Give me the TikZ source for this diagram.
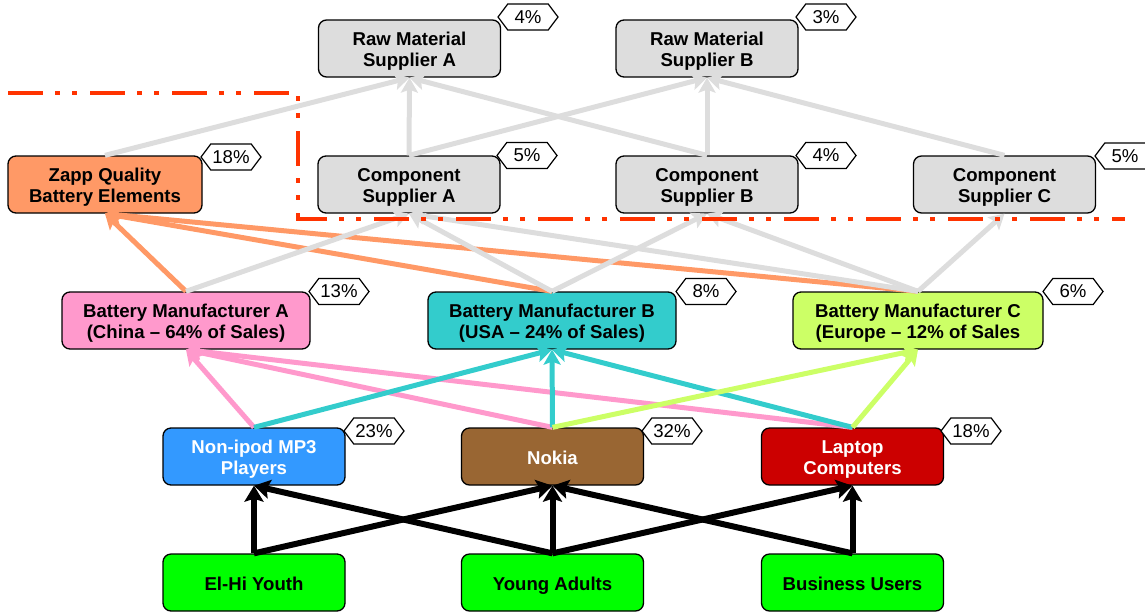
\documentclass[tikz,border=0pt]{standalone}
\usepackage{fontspec}
\setmainfont{Liberation Sans}
\usetikzlibrary{arrows.meta,shapes.symbols}
\definecolor{grayb}{HTML}{DDDDDD}
\definecolor{zappc}{HTML}{FF9966}
\definecolor{bmac}{HTML}{FF99CC}
\definecolor{bmbc}{HTML}{33CCCC}
\definecolor{bmcc}{HTML}{CCFF66}
\definecolor{mpc}{HTML}{3399FF}
\definecolor{nokc}{HTML}{996633}
\definecolor{lapc}{HTML}{CC0000}
\definecolor{grnc}{HTML}{00FF00}
\definecolor{ddc}{HTML}{FF3300}
\newcommand\bxtop{\rule{0pt}{19.2pt}}
\newcommand\bxbot{\rule[-4pt]{0pt}{4pt}}
\begin{document}
\begin{tikzpicture}[x=1pt,y=-1pt,
  box/.style={draw=black,line width=1.3pt,rounded corners=8pt,minimum width=182pt,minimum height=57pt,align=center,inner sep=0pt,font=\bfseries\fontsize{18.6}{21}\selectfont},
  pct/.style={draw=black,line width=1.2pt,fill=white,signal,signal to=east and west,signal pointer angle=106,minimum width=60pt,minimum height=26pt,inner sep=1pt,font=\fontsize{18.6}{21}\selectfont},
  conn/.style={line width=5pt,-{Stealth[length=15pt,width=17pt,inset=3pt]}},
  blk/.style={conn,draw=black,line width=6pt,-{Stealth[length=16pt,width=19pt,inset=3pt]}},
  gry/.style={conn,draw=grayb},
  org/.style={conn,draw=zappc},
  pnk/.style={conn,draw=bmac},
  cyn/.style={conn,draw=bmbc},
  lim/.style={conn,draw=bmcc},
  ddl/.style={draw=ddc,line width=4pt,dash pattern=on 35pt off 12pt on 5pt off 12pt on 5pt off 13pt}]
\useasboundingbox (0,0) rectangle (1145,611);
% boxes
\node[box,fill=grayb] (rma) at (409.5,48.5) {\bxtop Raw Material\\Supplier A\bxbot};
\node[box,fill=grayb] (rmb) at (707,48.5) {\bxtop Raw Material\\Supplier B\bxbot};
\node[box,fill=zappc,minimum width=194pt] (zapp) at (105,184.5) {\bxtop Zapp Quality\\Battery Elements\bxbot};
\node[box,fill=grayb] (csa) at (409,184.5) {\bxtop Component\\Supplier A\bxbot};
\node[box,fill=grayb] (csb) at (707,184.5) {\bxtop Component\\Supplier B\bxbot};
\node[box,fill=grayb] (csc) at (1004.5,184.5) {\bxtop Component\\Supplier C\bxbot};
\node[box,fill=bmac,minimum width=248pt] (bma) at (186,320.5) {\bxtop Battery Manufacturer A\\(China – 64\% of Sales)\bxbot};
\node[box,fill=bmbc,minimum width=248pt] (bmb) at (552,320.5) {\bxtop Battery Manufacturer B\\(USA – 24\% of Sales)\bxbot};
\node[box,fill=bmcc,minimum width=250pt] (bmc) at (918,320.5) {\bxtop Battery Manufacturer C\\(Europe – 12\% of Sales\bxbot};
\node[box,fill=mpc,text=white] (mp3) at (254,456.5) {\bxtop Non-ipod MP3\\Players\bxbot};
\node[box,fill=nokc,text=white] (nokia) at (552.5,456.5) {\bxtop Nokia\bxbot};
\node[box,fill=lapc,text=white] (laptop) at (852.5,456.5) {\bxtop Laptop\\Computers\bxbot};
\node[box,fill=grnc] (elhi) at (254,582.5) {\bxtop El-Hi Youth\bxbot};
\node[box,fill=grnc] (young) at (552.5,582.5) {\bxtop Young Adults\bxbot};
\node[box,fill=grnc] (biz) at (852.5,582.5) {\bxtop Business Users\bxbot};
% percentages
\node[pct] (p1) at (528,17) {4\%};
\node[pct] (p2) at (826,17) {3\%};
\node[pct] (p3) at (231,157) {18\%};
\node[pct] (p4) at (527,155.5) {5\%};
\node[pct] (p5) at (826,155.5) {4\%};
\node[pct] (p6) at (1125,156) {5\%};
\node[pct] (p7) at (339,291.5) {13\%};
\node[pct] (p8) at (706,291.5) {8\%};
\node[pct] (p9) at (1073,291.5) {6\%};
\node[pct] (p10) at (374,431) {23\%};
\node[pct] (p11) at (672,431) {32\%};
\node[pct] (p12) at (971,431) {18\%};
% top level
\draw[gry] (zapp.north) -- (rma.south);
\draw[gry] (csa.north) -- (rma.south);
\draw[gry] (csb.north) -- (rma.south);
\draw[gry] (csa.north) -- (rmb.south);
\draw[gry] (csb.north) -- (rmb.south);
\draw[gry] (csc.north) -- (rmb.south);
% manufacturers to suppliers
\draw[org] (bma.north) -- (zapp.south);
\draw[org] (bmb.north) -- (zapp.south);
\draw[org] (bmc.north) -- (zapp.south);
\draw[gry] (bma.north) -- (csa.south);
\draw[gry] (bmb.north) -- (csa.south);
\draw[gry] (bmc.north) -- (csa.south);
\draw[gry] (bmb.north) -- (csb.south);
\draw[gry] (bmc.north) -- (csb.south);
\draw[gry] (bmc.north) -- (csc.south);
% products to manufacturers
\draw[pnk] (mp3.north) -- (bma.south);
\draw[pnk] (nokia.north) -- (bma.south);
\draw[pnk] (laptop.north) -- (bma.south);
\draw[cyn] (mp3.north) -- (bmb.south);
\draw[cyn] (nokia.north) -- (bmb.south);
\draw[cyn] (laptop.north) -- (bmb.south);
\draw[lim] (nokia.north) -- (bmc.south);
\draw[lim] (laptop.north) -- (bmc.south);
% customers to products
\draw[blk] (elhi.north) -- (mp3.south);
\draw[blk] (elhi.north) -- (nokia.south);
\draw[blk] (young.north) -- (mp3.south);
\draw[blk] (young.north) -- (nokia.south);
\draw[blk] (young.north) -- (laptop.south);
\draw[blk] (biz.north) -- (nokia.south);
\draw[blk] (biz.north) -- (laptop.south);
% dash-dot boundary
\draw[ddl] (8,93) -- (298,93) -- (298,219) -- (1125,219);
\end{tikzpicture}
\end{document}
